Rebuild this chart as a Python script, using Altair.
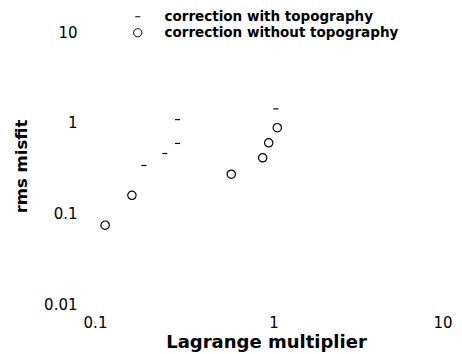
import altair as alt
import pandas as pd

# Data
with_x = [0.188, 0.246, 0.29, 0.29, 1.03]
with_y = [0.337, 0.457, 0.59, 1.08, 1.42]
without_x = [0.114, 0.161, 0.58, 0.87, 0.94, 1.05]
without_y = [0.074, 0.158, 0.27, 0.41, 0.60, 0.88]
series_names = ["correction with topography", "correction without topography"]
x_ticks = [0.1, 1, 10]
y_ticks = [0.01, 0.1, 1, 10]

df = pd.concat([
    pd.DataFrame({"x": with_x, "y": with_y, "series": series_names[0]}),
    pd.DataFrame({"x": without_x, "y": without_y, "series": series_names[1]}),
])

FONT = "DejaVu Sans"

legend_opts = dict(orient="none", legendX=36, legendY=-22, title=None,
                   labelFont=FONT, labelFontSize=13.5, labelFontWeight="bold",
                   labelColor="black", labelOffset=20, rowPadding=1, labelLimit=0,
                   symbolStrokeColor="black", symbolStrokeWidth=1)

chart = alt.Chart(df).mark_point(filled=False, color="black", strokeWidth=1.2, opacity=1).encode(
    x=alt.X("x:Q", scale=alt.Scale(type="log", domain=[0.1, 10]),
            axis=alt.Axis(values=x_ticks, format="~g", title="Lagrange multiplier",
                          domain=False, grid=False, ticks=False, tickSize=0,
                          labelPadding=11, labelFontSize=15, labelFont=FONT,
                          labelColor="black", labelFlush=False,
                          labelAlign={"expr": "datum.value >= 10 ? 'right' : 'center'"},
                          titleFont=FONT, titleFontSize=18, titleFontWeight="bold",
                          titleColor="black", titleY=29, titleX=171)),
    y=alt.Y("y:Q", scale=alt.Scale(type="log", domain=[0.01, 10]),
            axis=alt.Axis(values=y_ticks, format="~g", title="rms misfit",
                          domain=False, grid=False, ticks=False, tickSize=0,
                          labelPadding=18, labelFontSize=15, labelFont=FONT,
                          labelColor="black", labelFlush=False,
                          titleFont=FONT, titleFontSize=16.5, titleFontWeight="bold",
                          titleColor="black", titleX=-66, titleY=134)),
    shape=alt.Shape("series:N", scale=alt.Scale(domain=series_names, range=["stroke", "circle"]),
                    legend=alt.Legend(**legend_opts)),
    size=alt.Size("series:N", scale=alt.Scale(domain=series_names, range=[25, 70]),
                  legend=alt.Legend(**legend_opts)),
).properties(
    width=357, height=272,
    autosize=alt.AutoSizeParams(type="none"),
    padding={"left": 87, "top": 24, "right": 2, "bottom": 49},
).configure_view(stroke=None)

chart.save("out.html", embed_options={"renderer": "svg", "actions": False})
